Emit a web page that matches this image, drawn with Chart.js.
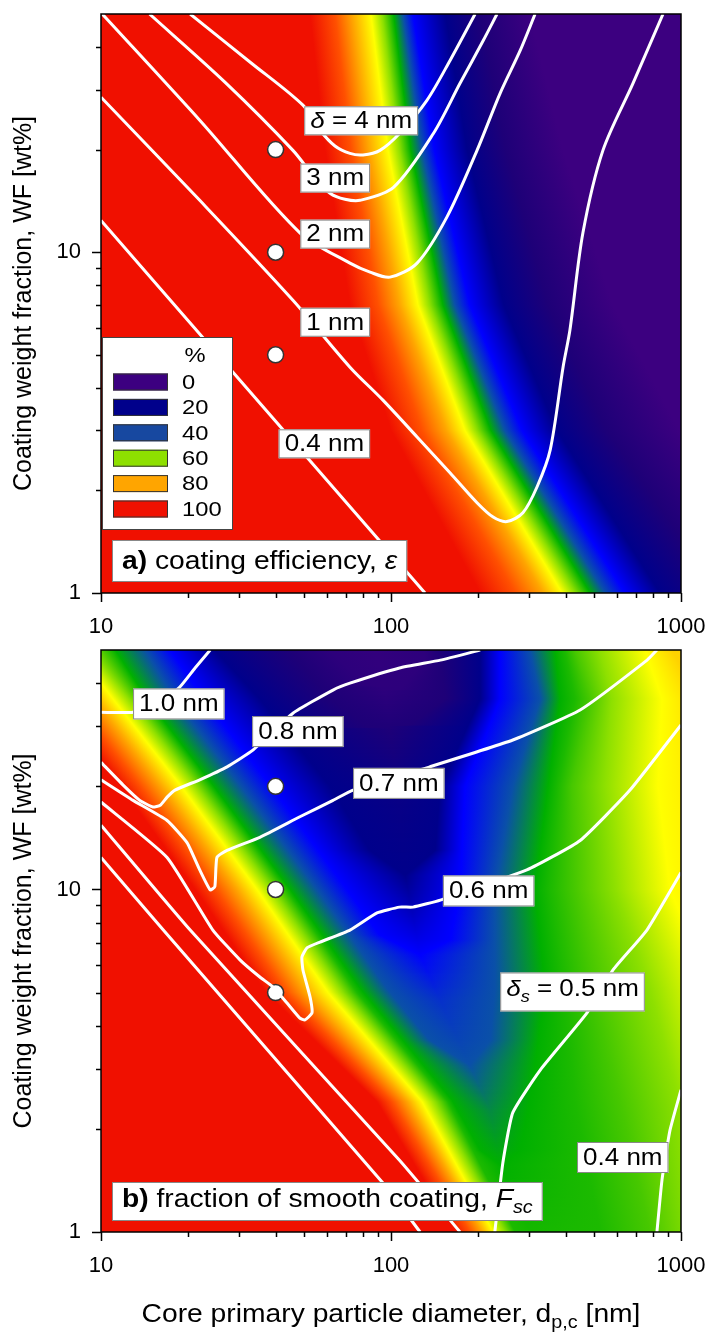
<!DOCTYPE html>
<html>
<head>
<meta charset="utf-8">
<script src="https://cdn.jsdelivr.net/npm/chart.js@4.4.1/dist/chart.umd.min.js"></script>
<style>
  html, body { margin: 0; padding: 0; background: #fff; }
  .panel { position: absolute; left: 0; }
</style>
</head>
<body>
<div class="panel" style="top:0"><canvas id="effChart" width="711" height="640"></canvas></div>
<div class="panel" style="top:640px"><canvas id="fscChart" width="711" height="694"></canvas></div>
<script>
// ---- axes ----
const xTickVals = [10, 20, 30, 40, 50, 60, 70, 80, 90, 100, 200, 300, 400, 500, 600, 700, 800, 900, 1000];
const xMajor = [10, 100, 1000];
const xTickLabels = ['10', '100', '1000'];
const yTickVals = [1, 2, 3, 4, 5, 6, 7, 8, 9, 10, 20, 30, 40];
const yMajor = [1, 10];
const yTickLabels = ['1', '10'];

// ---- colour scale (%) ----
const colorLevels = [100, 90, 80, 70, 60, 50, 40, 30, 20, 10, 0];
const levelColors = ['#f01000', '#ff5000', '#ffa500', '#ffff00', '#8ee000', '#00b000', '#0a50a8', '#0000ff', '#00008b', '#1e0078', '#3c0080'];
const legendLevels = [0, 20, 40, 60, 80, 100];
const legendColors = ['#3c0080', '#00008b', '#1748a0', '#8ee000', '#ffa500', '#f01000'];

// ---- a) coating efficiency: d [nm] where each level is crossed, per WF row ----
const effRowsWF = [50, 20, 7, 3, 1];
const eff100 = [52.6, 59.2, 72.2, 100, 203];
const eff90 = [64.1, 72.8, 90.2, 128, 268];
const eff80 = [73.4, 83.9, 107, 155, 334];
const eff70 = [85.3, 97.6, 124, 180, 389];
const eff60 = [93.1, 107, 136, 198, 431];
const eff50 = [102, 117, 151, 221, 486];
const eff40 = [110, 128, 166, 247, 547];
const eff30 = [119, 141, 187, 283, 641];
const eff20 = [154, 183, 245, 374, 847];
const eff10 = [203, 249, 348, 556, 1363];
const eff0 = [302, 392, 583, 992, 2573];

// coating thickness contours, [d, WF]
const effDelta04 = [[10, 12.4], [131, 1]];
const effDelta1 = [[10, 28.5], [21.9, 14.2], [45.9, 7.23], [72.2, 4.6], [93.8, 3.68], [123, 2.87], [160, 2.25], [198, 1.84], [225, 1.67], [251, 1.62], [285, 1.72], [319, 2.05], [354, 2.63], [392, 4.6], [414, 5.91], [459, 11.4], [538, 19.9], [683, 31.3], [867, 50]];
const effDelta2 = [[10.1, 50], [21.9, 24.4], [48.5, 11.4], [72.2, 9.29], [84.7, 8.74], [99.2, 8.45], [123, 9.29], [156, 12.7], [198, 19.9], [238, 29.3], [279, 39.1], [314, 50]];
const effDelta3 = [[14.7, 50], [26.8, 31.5], [45.9, 19.9], [54.7, 16.5], [61.6, 14.9], [69.4, 14.3], [78.2, 14.2], [102, 15.5], [140, 22.3], [173, 31.3], [208, 41.8], [232, 50]];
const effDelta4 = [[20.3, 50], [32.7, 36.1], [49.7, 27.0], [56.9, 22.8], [64.1, 20.5], [72.2, 19.5], [80.1, 19.3], [91.6, 19.9], [107, 22.3], [133, 27.9], [160, 36.6], [195, 50]];

// ---- b) fraction of smooth coating ----
const fscRowsWF = [50, 36, 20, 10, 5, 2.4, 1];
const fscBand100 = [5.1, 6.8, 11.7, 21.1, 37.1, 89.5, 166];
const fscBand90 = [6.0, 8.0, 13.7, 24.9, 43.5, 101, 187];
const fscBand80 = [7.0, 9.4, 16.1, 29.4, 50.9, 114, 206];
const fscBand70 = [8.2, 11.0, 18.9, 34.5, 60.7, 128, 225];
const fscBand60 = [9.2, 12.5, 21.3, 38.9, 68.3, 142, 247];
const fscBand52 = [10.8, 14.0, 23.8, 43.5, 76.3, 157, 268];
// closed valleys and right-hand contours, [d, WF]
const fscU50 = [[11.2, 50], [14.4, 36], [24.5, 20], [44.9, 10], [78.8, 5.1], [162, 2.43], [203, 1.73], [238, 1.57], [279, 1.73], [302, 2.43], [340, 5.1], [314, 10], [348, 20], [383, 36], [368, 50]];
const fscU40 = [[14.2, 50], [17.9, 36], [30.4, 20], [55.6, 10], [97.6, 5.1], [136, 3.63], [187, 3.07], [220, 3.63], [228, 5.1], [228, 10], [263, 20], [327, 36], [302, 50]];
const fscU30 = [[17.3, 50], [22.7, 36], [38.6, 20], [70.5, 10], [91.6, 7.36], [126, 6.43], [160, 7.12], [173, 10], [180, 20], [238, 36], [238, 50]];
const fscU20 = [[24.7, 50], [35.3, 36], [61.6, 20], [84.6, 13.0], [112, 11.0], [142, 13.0], [148, 20], [203, 36], [203, 50]];
const fscU10 = [[44.9, 50], [61.6, 36], [84.6, 29.6], [116, 30.2], [154, 36], [148, 50]];
const fscU5 = [[61.6, 50], [81.3, 39.5], [107, 38.2], [131, 46.7], [131, 50]];
// valley floor: [d, WF] and the value (%) along it
const fscTrough = [[88.1, 50], [95.3, 38.2], [99.2, 29.6], [106, 19.5], [112, 11.0], [118, 8.71], [126, 6.43], [148, 4.75], [187, 3.07], [220, 2.27], [238, 1.57], [302, 1]];
const fscTroughVal = [3, 5, 10, 17, 20, 24, 30, 36, 40, 46, 50, 51.5];
const fscR52 = [[398, 50], [431, 36], [377, 20], [354, 10], [398, 5.1], [431, 2.43], [526, 1]];
const fscR55 = [[431, 50], [486, 36], [421, 20], [431, 10], [505, 5.1], [616, 2.43], [782, 1]];
const fscR60 = [[526, 50], [578, 36], [547, 20], [592, 10], [782, 5.1], [1000, 2.27], [1118, 1]];
const fscR70 = [[752, 50], [860, 36], [833, 20], [916, 10], [1163, 6.22], [1500, 3], [1800, 1]];
const fscR75 = [[931, 50], [1163, 36], [1500, 20], [2500, 1]];

// smooth coating thickness contours, [d, WF]
const fscDelta10 = [[23.8, 50], [21.1, 44.3], [18.7, 39.0], [16.0, 35.2], [12.9, 32.9], [10, 32.9]];
const fscDelta08 = [[10, 23.5], [11.9, 20.2], [13.6, 18.2], [15.1, 17.4], [16.0, 17.6], [16.9, 18.6], [18.0, 19.5], [21.9, 20.9], [27.2, 22.8], [33.4, 25.5], [45.9, 32.7], [63.1, 38.2], [72.2, 40.0], [107, 44.3], [148, 46.7], [203, 50]];
const fscDelta07 = [[10, 20.9], [12.9, 18.2], [16.9, 15.9], [19.8, 13.7], [21.9, 11.4], [23.8, 9.96], [24.7, 10.2], [25.1, 12.4], [27.2, 13.0], [35.3, 14.2], [48.5, 16.3], [63.1, 18.2], [74.0, 19.5], [136, 22.8], [263, 27.3], [449, 33.4], [764, 46.7], [826, 50]];
const fscDelta06 = [[10, 18.0], [16.9, 12.4], [24.3, 7.61], [30.2, 6.22], [35.3, 5.55], [39.2, 5.19], [43.8, 4.66], [48.5, 4.21], [50.5, 4.16], [53.4, 4.36], [52.6, 4.85], [49.7, 5.82], [49.3, 6.35], [51.3, 6.75], [56.9, 7.02], [72.2, 7.61], [89.5, 8.54], [107, 8.88], [119, 8.88], [148, 9.31], [294, 11.4], [449, 13.9], [667, 19.5], [1000, 30.2]];
const fscDelta05a = [[10, 15.4], [20.3, 7.61], [107, 1.62], [173, 1]];
const fscDelta05b = [[1000, 11.2], [763, 7.61], [583, 5.82], [474, 4.36], [327, 2.97], [263, 2.23], [243, 1.59], [228, 1]];
const fscDelta04a = [[10, 12.4], [16.4, 7.61], [93.8, 1.39], [126, 1]];
const fscDelta04b = [[1000, 2.6], [916, 1.98], [860, 1.42], [826, 1]];

// experiments
const sampleD = [40, 40, 40];
const sampleWF = [20, 10, 5];

const FONT = '"Liberation Sans", Arial, sans-serif';
const STRETCH = 1.13; // the figure's lettering is a little wider than tall

// ---- helpers ----
function hexRGB(h) {
  return [1, 3, 5].map(i => parseInt(h.substr(i, 2), 16));
}
const levelRGB = levelColors.map(hexRGB);
function levelColor(v) {
  for (let i = 0; i < colorLevels.length - 1; i++) {
    const hi = colorLevels[i], lo = colorLevels[i + 1];
    if (v <= hi && v >= lo) {
      const t = (hi - v) / (hi - lo);
      const c = levelRGB[i].map((a, k) => Math.round(a + (levelRGB[i + 1][k] - a) * t));
      return `rgb(${c[0]},${c[1]},${c[2]})`;
    }
  }
  return v > 100 ? levelColors[0] : levelColors[levelColors.length - 1];
}
function rowLine(level, ds, rows) {
  return { levels: ds.map(() => level), pts: ds.map((d, i) => [d, rows[i]]) };
}
function isoLine(level, pts) {
  return { levels: pts.map(() => level), pts };
}
const xy = pts => pts.map(p => ({ x: p[0], y: p[1] }));

// paints the colour field row by row from the level contours
function fieldPlugin(isolines) {
  return {
    id: 'field',
    beforeDatasetsDraw(chart) {
      const { ctx, chartArea: a, scales: { x, y } } = chart;
      const lines = isolines.map(l => ({
        lv: l.levels,
        pts: l.pts.map(p => [x.getPixelForValue(p[0]), y.getPixelForValue(p[1])])
      }));
      ctx.save();
      for (let py = Math.floor(a.top); py < Math.ceil(a.bottom); py++) {
        const yc = py + 0.5;
        const stops = [];
        lines.forEach(l => {
          for (let i = 0; i < l.pts.length - 1; i++) {
            const [x0, y0] = l.pts[i], [x1, y1] = l.pts[i + 1];
            if (yc >= Math.min(y0, y1) && yc < Math.max(y0, y1)) {
              const t = (yc - y0) / (y1 - y0);
              stops.push({ x: x0 + (x1 - x0) * t, c: levelColor(l.lv[i] + (l.lv[i + 1] - l.lv[i]) * t) });
            }
          }
        });
        if (!stops.length) continue;
        stops.sort((p, q) => p.x - q.x);
        const xa = stops[0].x, xb = stops[stops.length - 1].x;
        if (xb - xa < 0.5) {
          ctx.fillStyle = stops[0].c;
        } else {
          const g = ctx.createLinearGradient(xa, 0, xb, 0);
          stops.forEach(s => g.addColorStop((s.x - xa) / (xb - xa), s.c));
          ctx.fillStyle = g;
        }
        ctx.fillRect(a.left, py, a.right - a.left, 1);
      }
      ctx.restore();
    }
  };
}

function segFont(s, size) {
  const sz = s.sub ? size * 0.7 : size;
  return (s.it ? 'italic ' : '') + (s.b ? 'bold ' : '') + sz.toFixed(1) + 'px ' + FONT;
}
function richWidth(ctx, segs, size) {
  let w = 0;
  segs.forEach(s => { ctx.font = segFont(s, size); w += ctx.measureText(s.t).width; });
  return w * STRETCH;
}
function drawRich(ctx, segs, x, y, size) {
  ctx.save();
  ctx.translate(x, y);
  ctx.scale(STRETCH, 1);
  ctx.textBaseline = 'middle';
  ctx.textAlign = 'left';
  let cx = 0;
  segs.forEach(s => {
    ctx.font = segFont(s, size);
    ctx.fillText(s.t, cx, s.sub ? size * 0.32 : 0);
    cx += ctx.measureText(s.t).width;
  });
  ctx.restore();
}
function labelBox(ctx, segs, x, yMid, size, pad, h, right, dy) {
  const w = richWidth(ctx, segs, size) + 2 * pad;
  const left = right ? x - w : x;
  ctx.fillStyle = '#fff';
  ctx.fillRect(left, yMid - h / 2, w, h);
  ctx.strokeStyle = '#888';
  ctx.lineWidth = 1;
  ctx.strokeRect(left + 0.5, yMid - h / 2 + 0.5, w - 1, h - 1);
  ctx.fillStyle = '#000';
  drawRich(ctx, segs, left + pad, yMid + 1 + dy, size);
}

// frame, ticks, labels, legend
function decorPlugin(o) {
  return {
    id: 'decor',
    afterDatasetsDraw(chart) {
      const { ctx, chartArea: a, scales: { x, y } } = chart;
      ctx.save();
      o.labels.forEach(l => {
        labelBox(ctx, l.segs, x.getPixelForValue(l.at[0]), y.getPixelForValue(l.at[1]), 23, 6,
          l.boxH || o.labelH, !!l.right, l.textDy || 0);
      });
      labelBox(ctx, o.panel, a.left + 11, a.bottom - 11 - o.panelH / 2, 25, 10, o.panelH, false, o.panelDy);

      if (o.legend) {
        const lx = a.left + 1, ly = a.top + 323;
        ctx.fillStyle = '#fff';
        ctx.fillRect(lx, ly, 131, 193);
        ctx.strokeStyle = '#444';
        ctx.lineWidth = 1;
        ctx.strokeRect(lx + 0.5, ly + 0.5, 130, 192);
        ctx.fillStyle = '#000';
        const pw = richWidth(ctx, [{ t: '%' }], 21);
        drawRich(ctx, [{ t: '%' }], lx + 93 - pw / 2, ly + 19, 21);
        legendLevels.forEach((v, i) => {
          const cy = ly + 45 + i * 25.4;
          ctx.fillStyle = legendColors[i];
          ctx.fillRect(lx + 11, cy - 8.5, 55, 17);
          ctx.strokeStyle = '#333';
          ctx.strokeRect(lx + 11.5, cy - 8, 54, 16);
          ctx.fillStyle = '#000';
          drawRich(ctx, [{ t: String(v) }], lx + 80, cy + 1, 21);
        });
      }

      ctx.strokeStyle = '#000';
      ctx.lineWidth = 1.5;
      ctx.strokeRect(a.left, a.top, a.right - a.left, a.bottom - a.top);
      ctx.beginPath();
      xTickVals.forEach(v => {
        const px = Math.round(x.getPixelForValue(v)) + 0.5;
        ctx.moveTo(px, a.bottom);
        ctx.lineTo(px, a.bottom + (xMajor.includes(v) ? 9 : 5));
      });
      yTickVals.forEach(v => {
        const py = Math.round(y.getPixelForValue(v)) + 0.5;
        ctx.moveTo(a.left, py);
        ctx.lineTo(a.left - (yMajor.includes(v) ? 9 : 5), py);
      });
      ctx.stroke();

      if (o.xTitle) {
        const w = richWidth(ctx, o.xTitle, 25);
        ctx.fillStyle = '#000';
        drawRich(ctx, o.xTitle, (a.left + a.right) / 2 - w / 2, a.bottom + 83, 25);
      }
      ctx.restore();
    }
  };
}

function contour(tension) {
  return pts => ({ type: 'line', data: xy(pts), borderColor: '#fff', borderWidth: 3, pointRadius: 0, fill: false, tension, clip: 0 });
}
function samples() {
  return {
    type: 'scatter', data: sampleD.map((d, i) => ({ x: d, y: sampleWF[i] })),
    pointRadius: 8, pointBackgroundColor: '#fff', pointBorderColor: '#333', pointBorderWidth: 1.5
  };
}

function buildOptions(axisH, padTop) {
  return {
    responsive: false,
    animation: false,
    events: [],
    layout: { padding: { top: padTop, right: 30, left: 0, bottom: 0 } },
    scales: {
      x: {
        type: 'logarithmic', min: 10, max: 1000,
        afterBuildTicks: s => { s.ticks = xTickVals.map(v => ({ value: v })); },
        ticks: {
          callback: v => (xMajor.includes(v) ? xTickLabels[xMajor.indexOf(v)] : ''),
          autoSkip: false, maxRotation: 0, minRotation: 0, padding: 21,
          color: '#000', font: { family: FONT, size: 22 }
        },
        grid: { display: false, drawTicks: false },
        border: { display: false },
        afterFit: s => { s.height = axisH; s.paddingLeft = 0; s.paddingRight = 0; }
      },
      y: {
        type: 'logarithmic', min: 1, max: 50,
        afterBuildTicks: s => { s.ticks = yTickVals.map(v => ({ value: v })); },
        ticks: {
          callback: v => (yMajor.includes(v) ? yTickLabels[yMajor.indexOf(v)] : ''),
          autoSkip: false, padding: 20, color: '#000', font: { family: FONT, size: 22 }
        },
        title: {
          display: true, text: 'Coating weight fraction, WF [wt%]', color: '#000',
          font: { family: FONT, size: 25 }, padding: { top: 9, bottom: 0 }
        },
        grid: { display: false, drawTicks: false },
        border: { display: false },
        afterFit: s => { s.width = 101; s.paddingTop = 0; s.paddingBottom = 0; }
      }
    },
    plugins: { legend: { display: false }, tooltip: { enabled: false } }
  };
}

// ---- a) ----
const effLines = [eff100, eff90, eff80, eff70, eff60, eff50, eff40, eff30, eff20, eff10, eff0]
  .map((ds, i) => rowLine(colorLevels[i], ds, effRowsWF));

new Chart(document.getElementById('effChart'), {
  type: 'line',
  data: {
    datasets: [effDelta04, effDelta1, effDelta2, effDelta3, effDelta4].map(contour(0.3)).concat([samples()])
  },
  options: buildOptions(47, 14),
  plugins: [fieldPlugin(effLines), decorPlugin({
    labels: [
      { segs: [{ t: 'δ', it: true }, { t: ' = 4 nm' }], at: [124, 24.3], right: true },
      { segs: [{ t: '3 nm' }], at: [84.7, 16.5], right: true },
      { segs: [{ t: '2 nm' }], at: [84.7, 11.3], right: true },
      { segs: [{ t: '1 nm' }], at: [84.7, 6.23], right: true },
      { segs: [{ t: '0.4 nm' }], at: [84.7, 2.74], right: true }
    ],
    labelH: 29,
    panel: [{ t: 'a)', b: true }, { t: ' coating efficiency, ' }, { t: 'ε', it: true }],
    panelH: 42,
    panelDy: 0,
    legend: true,
    xTitle: null
  })]
});

// ---- b) ----
const fscLines = [
  rowLine(100, fscBand100, fscRowsWF), rowLine(90, fscBand90, fscRowsWF),
  rowLine(80, fscBand80, fscRowsWF), rowLine(70, fscBand70, fscRowsWF),
  rowLine(60, fscBand60, fscRowsWF), rowLine(52, fscBand52, fscRowsWF),
  isoLine(50, fscU50), isoLine(40, fscU40), isoLine(30, fscU30),
  isoLine(20, fscU20), isoLine(10, fscU10), isoLine(5, fscU5),
  { levels: fscTroughVal, pts: fscTrough },
  isoLine(52, fscR52), isoLine(55, fscR55), isoLine(60, fscR60),
  isoLine(70, fscR70), isoLine(75, fscR75)
];

new Chart(document.getElementById('fscChart'), {
  type: 'line',
  data: {
    datasets: [fscDelta10, fscDelta08, fscDelta07, fscDelta06, fscDelta05a, fscDelta05b, fscDelta04a, fscDelta04b]
      .map(contour(0.15)).concat([samples()])
  },
  options: buildOptions(102, 10),
  plugins: [fieldPlugin(fscLines), decorPlugin({
    labels: [
      { segs: [{ t: '1.0 nm' }], at: [12.9, 34.8] },
      { segs: [{ t: '0.8 nm' }], at: [33.2, 28.9] },
      { segs: [{ t: '0.7 nm' }], at: [74.0, 20.4] },
      { segs: [{ t: '0.6 nm' }], at: [151, 9.9] },
      { segs: [{ t: 'δ', it: true }, { t: 's', it: true, sub: true }, { t: ' = 0.5 nm' }], at: [238, 5.02], boxH: 39, textDy: -3 },
      { segs: [{ t: '0.4 nm' }], at: [438, 1.65] }
    ],
    labelH: 31,
    panel: [{ t: 'b)', b: true }, { t: ' fraction of smooth coating, ' }, { t: 'F', it: true }, { t: 'sc', it: true, sub: true }],
    panelH: 39,
    panelDy: -2,
    legend: false,
    xTitle: [{ t: 'Core primary particle diameter, d' }, { t: 'p,c', sub: true }, { t: ' [nm]' }]
  })]
});
</script>
</body>
</html>
